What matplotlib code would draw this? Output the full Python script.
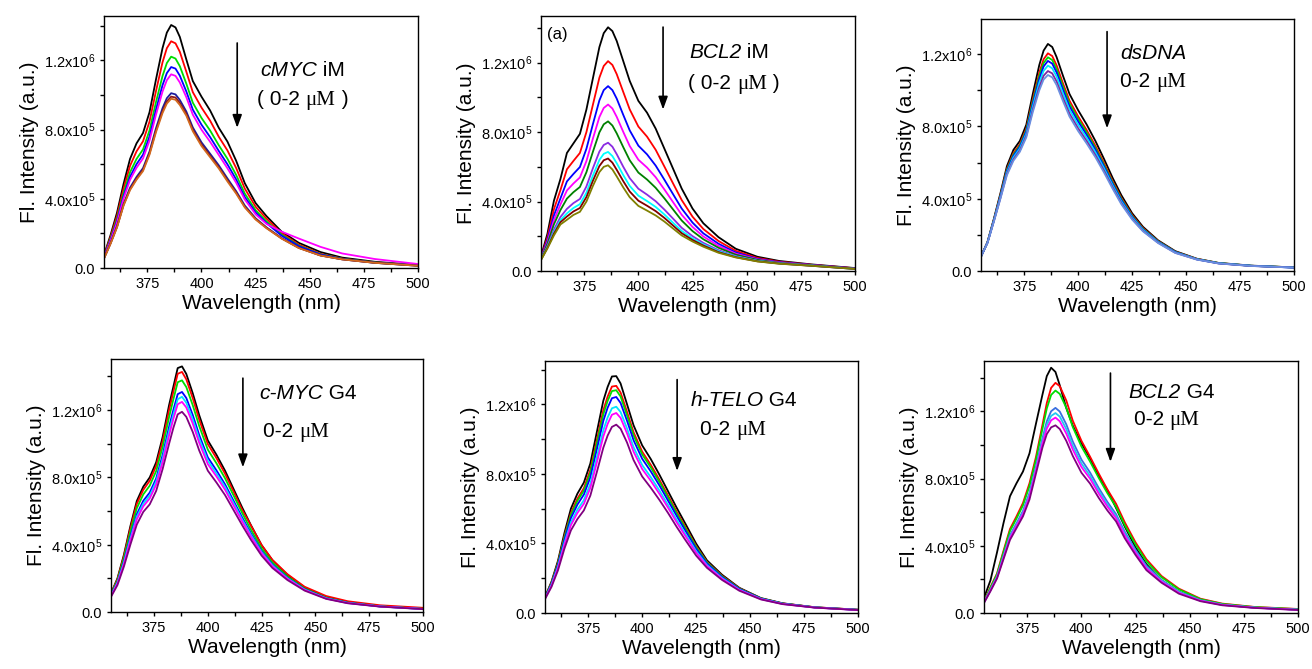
import matplotlib
matplotlib.use("Agg")
import numpy as np
import matplotlib.pyplot as plt
from matplotlib.offsetbox import TextArea, HPacker, AnnotationBbox
from matplotlib.ticker import MultipleLocator

# emission wavelength grid (nm), intensities below in units of 1e5 a.u.
wavelength = [355, 358, 361, 364, 367, 370, 373, 376, 379, 382, 384, 386, 388, 390, 393,
              396, 400, 404, 408, 412, 416, 420, 425, 430, 437, 445, 455, 465, 480, 500]

# --- cMYC iM titration ---
cmyc_im = [
    [0.75, 1.9, 3.2, 4.85, 6.3, 7.2, 7.8, 9.0, 10.9, 12.7, 13.6, 14.04, 13.9, 13.35, 12.05, 10.8, 9.9, 9.1, 8.1, 7.3, 6.2, 4.9, 3.75, 3.0, 2.1, 1.45, 0.92, 0.6, 0.36, 0.17],
    [0.71, 1.79, 3.01, 4.58, 5.9, 6.74, 7.32, 8.46, 10.23, 11.88, 12.7, 13.1, 12.98, 12.49, 11.34, 10.16, 9.27, 8.51, 7.58, 6.79, 5.78, 4.59, 3.54, 2.85, 2.01, 1.35, 0.82, 0.54, 0.32, 0.16],
    [0.66, 1.69, 2.83, 4.31, 5.53, 6.3, 6.85, 7.95, 9.59, 11.09, 11.84, 12.21, 12.1, 11.66, 10.65, 9.55, 8.67, 7.94, 7.09, 6.31, 5.38, 4.3, 3.34, 2.7, 1.93, 1.29, 0.79, 0.53, 0.32, 0.15],
    [0.64, 1.62, 2.72, 4.14, 5.27, 6.0, 6.55, 7.6, 9.16, 10.56, 11.26, 11.61, 11.52, 11.11, 10.2, 9.15, 8.28, 7.56, 6.76, 5.99, 5.12, 4.1, 3.21, 2.6, 1.87, 1.26, 0.78, 0.52, 0.31, 0.15],
    [0.62, 1.57, 2.63, 4.01, 5.09, 5.79, 6.33, 7.36, 8.86, 10.19, 10.85, 11.19, 11.1, 10.72, 9.87, 8.86, 7.99, 7.29, 6.53, 5.76, 4.93, 3.96, 3.1, 2.55, 2.1, 1.7, 1.22, 0.84, 0.52, 0.23],
    [0.57, 1.44, 2.41, 3.69, 4.64, 5.26, 5.77, 6.73, 8.08, 9.23, 9.81, 10.1, 10.03, 9.71, 9.04, 8.12, 7.26, 6.6, 5.93, 5.17, 4.44, 3.61, 2.87, 2.35, 1.73, 1.17, 0.73, 0.5, 0.3, 0.13],
    [0.56, 1.42, 2.38, 3.64, 4.55, 5.16, 5.67, 6.62, 7.94, 9.06, 9.62, 9.9, 9.85, 9.54, 8.9, 7.99, 7.14, 6.48, 5.82, 5.07, 4.36, 3.54, 2.83, 2.32, 1.71, 1.16, 0.72, 0.5, 0.3, 0.13],
    [0.55, 1.4, 2.35, 3.6, 4.5, 5.1, 5.6, 6.55, 7.85, 8.95, 9.5, 9.78, 9.72, 9.42, 8.8, 7.9, 7.05, 6.4, 5.75, 5.0, 4.3, 3.5, 2.8, 2.3, 1.7, 1.15, 0.72, 0.5, 0.3, 0.13],
]
cmyc_im_colors = ["black", "#ff0000", "#00dd00", "#0000ff", "#ff00ff", "#1c1c9c", "#8b1a1a", "#d2691e"]

# --- BCL2 iM titration ---
bcl2_im = [
    [0.82, 2.15, 4.05, 5.3, 6.8, 7.35, 7.9, 9.3, 11.1, 12.9, 13.7, 14.04, 13.82, 13.25, 12.1, 10.95, 9.8, 9.12, 8.2, 7.05, 5.9, 4.75, 3.6, 2.75, 1.95, 1.28, 0.82, 0.58, 0.38, 0.17],
    [0.77, 1.94, 3.56, 4.66, 5.86, 6.34, 6.8, 8.0, 9.58, 11.14, 11.81, 12.09, 11.87, 11.34, 10.32, 9.31, 8.32, 7.74, 6.98, 6.02, 5.05, 4.09, 3.13, 2.42, 1.73, 1.16, 0.75, 0.54, 0.36, 0.16],
    [0.74, 1.79, 3.2, 4.18, 5.16, 5.59, 5.99, 7.04, 8.46, 9.83, 10.42, 10.65, 10.42, 9.93, 9.0, 8.1, 7.22, 6.72, 6.07, 5.26, 4.43, 3.6, 2.79, 2.17, 1.57, 1.07, 0.7, 0.51, 0.35, 0.15],
    [0.71, 1.67, 2.93, 3.83, 4.64, 5.04, 5.39, 6.33, 7.63, 8.87, 9.39, 9.59, 9.36, 8.88, 8.02, 7.2, 6.41, 5.96, 5.4, 4.7, 3.97, 3.24, 2.54, 1.99, 1.45, 1.0, 0.67, 0.49, 0.34, 0.14],
    [0.69, 1.57, 2.69, 3.51, 4.17, 4.54, 4.84, 5.69, 6.87, 7.99, 8.45, 8.62, 8.38, 7.93, 7.14, 6.38, 5.67, 5.27, 4.79, 4.19, 3.55, 2.91, 2.3, 1.83, 1.34, 0.94, 0.64, 0.47, 0.33, 0.14],
    [0.66, 1.44, 2.38, 3.11, 3.58, 3.91, 4.15, 4.87, 5.92, 6.88, 7.26, 7.39, 7.16, 6.73, 6.01, 5.35, 4.74, 4.4, 4.02, 3.54, 3.02, 2.49, 2.01, 1.62, 1.2, 0.86, 0.59, 0.45, 0.31, 0.13],
    [0.65, 1.38, 2.24, 2.93, 3.32, 3.63, 3.85, 4.51, 5.5, 6.4, 6.75, 6.86, 6.62, 6.21, 5.53, 4.9, 4.34, 4.03, 3.69, 3.26, 2.78, 2.31, 1.88, 1.53, 1.14, 0.83, 0.58, 0.44, 0.31, 0.12],
    [0.64, 1.34, 2.15, 2.81, 3.14, 3.43, 3.63, 4.26, 5.2, 6.05, 6.38, 6.48, 6.24, 5.83, 5.18, 4.58, 4.05, 3.76, 3.45, 3.06, 2.62, 2.18, 1.79, 1.47, 1.09, 0.8, 0.56, 0.43, 0.3, 0.12],
    [0.63, 1.3, 2.05, 2.68, 2.95, 3.23, 3.41, 4.0, 4.9, 5.7, 6.0, 6.09, 5.85, 5.45, 4.82, 4.25, 3.75, 3.48, 3.2, 2.85, 2.45, 2.05, 1.7, 1.4, 1.05, 0.78, 0.55, 0.42, 0.3, 0.12],
]
bcl2_im_colors = ["black", "#ff0000", "#0000ff", "#ff00ff", "#008000", "#8a2be2", "#00ffff", "#800000", "#808000"]

# --- dsDNA titration ---
dsdna = [
    [0.8, 1.6, 2.9, 4.3, 5.8, 6.7, 7.2, 8.1, 9.8, 11.4, 12.2, 12.57, 12.4, 11.85, 10.8, 9.8, 8.9, 8.1, 7.2, 6.2, 5.15, 4.2, 3.2, 2.45, 1.7, 1.1, 0.68, 0.45, 0.3, 0.2],
    [0.8, 1.59, 2.86, 4.21, 5.65, 6.52, 7.02, 7.89, 9.5, 10.98, 11.72, 12.05, 11.9, 11.39, 10.38, 9.43, 8.56, 7.79, 6.93, 5.98, 4.97, 4.05, 3.1, 2.38, 1.66, 1.07, 0.67, 0.44, 0.29, 0.2],
    [0.8, 1.58, 2.84, 4.17, 5.59, 6.44, 6.94, 7.8, 9.37, 10.8, 11.51, 11.83, 11.68, 11.18, 10.2, 9.26, 8.41, 7.65, 6.81, 5.88, 4.89, 3.99, 3.05, 2.34, 1.64, 1.06, 0.66, 0.44, 0.29, 0.2],
    [0.8, 1.57, 2.82, 4.14, 5.53, 6.37, 6.87, 7.72, 9.25, 10.63, 11.32, 11.63, 11.48, 11.0, 10.03, 9.11, 8.27, 7.52, 6.71, 5.79, 4.82, 3.93, 3.01, 2.31, 1.62, 1.05, 0.65, 0.43, 0.29, 0.19],
    [0.8, 1.57, 2.8, 4.09, 5.45, 6.28, 6.78, 7.61, 9.1, 10.42, 11.08, 11.37, 11.22, 10.77, 9.82, 8.93, 8.1, 7.37, 6.57, 5.68, 4.73, 3.85, 2.96, 2.28, 1.6, 1.03, 0.65, 0.43, 0.29, 0.19],
    [0.8, 1.56, 2.77, 4.04, 5.37, 6.18, 6.68, 7.49, 8.93, 10.18, 10.81, 11.07, 10.94, 10.5, 9.58, 8.71, 7.9, 7.19, 6.42, 5.55, 4.63, 3.77, 2.9, 2.23, 1.57, 1.01, 0.64, 0.42, 0.28, 0.19],
    [0.8, 1.55, 2.75, 4.0, 5.3, 6.1, 6.6, 7.4, 8.8, 10.0, 10.6, 10.85, 10.72, 10.3, 9.4, 8.55, 7.75, 7.05, 6.3, 5.45, 4.55, 3.7, 2.85, 2.2, 1.55, 1.0, 0.63, 0.42, 0.28, 0.19],
]
dsdna_colors = ["black", "#ff0000", "#00dd00", "#0000ff", "#00e5ff", "#7b2aa0", "#6a8fe0"]

# --- c-MYC G4 titration ---
cmyc_g4 = [
    [1.1, 2.0, 3.4, 5.1, 6.6, 7.45, 8.0, 8.9, 10.4, 12.3, 13.4, 14.5, 14.6, 14.15, 13.0, 11.7, 10.2, 9.35, 8.4, 7.3, 6.2, 5.17, 3.97, 3.08, 2.2, 1.45, 0.88, 0.58, 0.35, 0.2],
    [1.08, 1.95, 3.31, 4.96, 6.43, 7.26, 7.8, 8.69, 10.16, 12.01, 13.1, 14.16, 14.27, 13.83, 12.71, 11.44, 9.98, 9.15, 8.22, 7.15, 6.07, 5.15, 3.98, 3.1, 2.25, 1.5, 0.95, 0.64, 0.4, 0.25],
    [1.04, 1.88, 3.19, 4.76, 6.17, 6.99, 7.51, 8.38, 9.82, 11.59, 12.65, 13.66, 13.77, 13.37, 12.29, 11.06, 9.65, 8.84, 7.95, 6.92, 5.88, 4.9, 3.78, 2.94, 2.11, 1.39, 0.85, 0.56, 0.34, 0.19],
    [0.99, 1.78, 3.01, 4.48, 5.81, 6.61, 7.1, 7.94, 9.33, 11.01, 12.02, 12.95, 13.08, 12.72, 11.71, 10.52, 9.19, 8.42, 7.59, 6.6, 5.61, 4.68, 3.62, 2.82, 2.03, 1.35, 0.82, 0.55, 0.33, 0.18],
    [0.97, 1.73, 2.93, 4.36, 5.66, 6.44, 6.92, 7.76, 9.12, 10.75, 11.75, 12.65, 12.79, 12.44, 11.45, 10.29, 8.99, 8.24, 7.43, 6.46, 5.49, 4.59, 3.55, 2.77, 2.0, 1.33, 0.81, 0.54, 0.33, 0.18],
    [0.94, 1.69, 2.85, 4.24, 5.51, 6.28, 6.75, 7.57, 8.92, 10.5, 11.49, 12.35, 12.49, 12.16, 11.2, 10.06, 8.79, 8.06, 7.27, 6.32, 5.38, 4.49, 3.49, 2.72, 1.97, 1.31, 0.8, 0.53, 0.33, 0.18],
    [0.9, 1.6, 2.7, 4.0, 5.2, 5.95, 6.4, 7.2, 8.5, 10.0, 10.95, 11.75, 11.9, 11.6, 10.7, 9.6, 8.4, 7.7, 6.95, 6.05, 5.15, 4.3, 3.35, 2.62, 1.9, 1.27, 0.78, 0.52, 0.32, 0.17],
]
cmyc_g4_colors = ["black", "#ff0000", "#00dd00", "#0000ff", "#00e5ff", "#ff00ff", "#800080"]

# --- h-TELO G4 titration ---
htelo_g4 = [
    [0.92, 1.8, 3.0, 4.6, 6.0, 6.86, 7.5, 8.6, 10.4, 12.2, 13.0, 13.6, 13.62, 13.2, 12.0, 10.8, 9.64, 8.85, 7.95, 7.0, 6.05, 5.14, 3.99, 3.03, 2.2, 1.45, 0.86, 0.56, 0.33, 0.19],
    [0.9, 1.74, 2.89, 4.42, 5.75, 6.57, 7.18, 8.23, 9.94, 11.66, 12.44, 13.02, 13.06, 12.68, 11.56, 10.4, 9.28, 8.52, 7.66, 6.75, 5.83, 4.95, 3.85, 2.94, 2.14, 1.42, 0.84, 0.55, 0.33, 0.19],
    [0.89, 1.71, 2.84, 4.34, 5.64, 6.44, 7.04, 8.06, 9.73, 11.42, 12.19, 12.76, 12.81, 12.45, 11.36, 10.22, 9.12, 8.37, 7.53, 6.64, 5.73, 4.87, 3.79, 2.91, 2.11, 1.4, 0.84, 0.55, 0.32, 0.18],
    [0.87, 1.67, 2.76, 4.21, 5.46, 6.23, 6.81, 7.8, 9.41, 11.04, 11.8, 12.35, 12.42, 12.08, 11.05, 9.94, 8.87, 8.14, 7.33, 6.46, 5.58, 4.74, 3.69, 2.85, 2.07, 1.38, 0.83, 0.54, 0.32, 0.18],
    [0.84, 1.61, 2.65, 4.03, 5.21, 5.94, 6.49, 7.43, 8.95, 10.5, 11.24, 11.77, 11.86, 11.56, 10.61, 9.54, 8.51, 7.81, 7.04, 6.21, 5.36, 4.55, 3.56, 2.76, 2.01, 1.34, 0.81, 0.53, 0.32, 0.18],
    [0.83, 1.57, 2.58, 3.92, 5.05, 5.75, 6.28, 7.19, 8.65, 10.15, 10.87, 11.4, 11.5, 11.22, 10.33, 9.28, 8.28, 7.6, 6.85, 6.05, 5.21, 4.43, 3.47, 2.7, 1.97, 1.32, 0.8, 0.52, 0.31, 0.17],
    [0.8, 1.5, 2.45, 3.7, 4.75, 5.4, 5.9, 6.75, 8.1, 9.5, 10.2, 10.7, 10.83, 10.6, 9.8, 8.8, 7.85, 7.2, 6.5, 5.75, 4.95, 4.2, 3.3, 2.6, 1.9, 1.28, 0.78, 0.51, 0.31, 0.17],
]
htelo_g4_colors = ["black", "#ff0000", "#00dd00", "#0000ff", "#00e5ff", "#ff00ff", "#800080"]

# --- BCL2 G4 titration ---
bcl2_g4 = [
    [0.9, 1.95, 3.6, 5.35, 6.95, 7.72, 8.42, 9.5, 11.27, 13.0, 14.1, 14.6, 14.35, 13.55, 12.2, 11.15, 10.1, 9.2, 8.15, 7.3, 6.25, 5.15, 3.9, 2.9, 1.95, 1.25, 0.75, 0.5, 0.32, 0.2],
    [0.7, 1.55, 2.35, 3.7, 5.0, 5.75, 6.55, 7.72, 9.29, 11.2, 12.5, 13.4, 13.7, 13.5, 12.65, 11.45, 10.25, 9.3, 8.3, 7.35, 6.5, 5.4, 4.2, 3.2, 2.2, 1.45, 0.85, 0.56, 0.36, 0.24],
    [0.68, 1.51, 2.3, 3.61, 4.88, 5.62, 6.41, 7.55, 9.11, 10.96, 12.17, 12.98, 13.24, 13.04, 12.22, 11.07, 9.91, 9.01, 8.04, 7.13, 6.31, 5.23, 4.07, 3.08, 2.13, 1.4, 0.82, 0.54, 0.35, 0.23],
    [0.64, 1.4, 2.17, 3.41, 4.62, 5.34, 6.08, 7.15, 8.71, 10.4, 11.41, 12.01, 12.21, 11.99, 11.23, 10.21, 9.13, 8.36, 7.44, 6.61, 5.88, 4.84, 3.76, 2.82, 1.96, 1.27, 0.76, 0.5, 0.32, 0.2],
    [0.63, 1.37, 2.14, 3.35, 4.54, 5.25, 5.98, 7.03, 8.59, 10.24, 11.19, 11.73, 11.9, 11.69, 10.95, 9.96, 8.9, 8.16, 7.27, 6.46, 5.75, 4.73, 3.67, 2.74, 1.92, 1.24, 0.74, 0.49, 0.32, 0.2],
    [0.62, 1.35, 2.1, 3.29, 4.47, 5.18, 5.89, 6.92, 8.48, 10.09, 10.98, 11.47, 11.63, 11.41, 10.68, 9.73, 8.69, 7.99, 7.11, 6.33, 5.64, 4.62, 3.59, 2.67, 1.87, 1.2, 0.73, 0.48, 0.31, 0.19],
    [0.6, 1.3, 2.05, 3.2, 4.35, 5.05, 5.75, 6.75, 8.3, 9.85, 10.65, 11.05, 11.17, 10.95, 10.25, 9.35, 8.35, 7.7, 6.85, 6.1, 5.45, 4.45, 3.45, 2.55, 1.8, 1.15, 0.7, 0.46, 0.3, 0.18],
]
bcl2_g4_colors = ["black", "#ff0000", "#00dd00", "#3a6fe0", "#22c8f0", "#ff00ff", "#800080"]

x_ticks = [375, 400, 425, 450, 475, 500]
y_ticks = [0, 4e5, 8e5, 1.2e6]
y_ticklabels = ["0.0", "4.0x10$^5$", "8.0x10$^5$", "1.2x10$^6$"]

plt.rcParams.update({
    "font.family": ["Liberation Sans", "DejaVu Sans"],
    "mathtext.default": "regular",
    "axes.linewidth": 1.0,
})

SANS = "Liberation Sans"
SERIF = "Liberation Serif"
FS_NOTE = 15


def place_segments(ax, x, y, segments):
    """Put a run of differently styled text pieces left-aligned at (x, y)."""
    boxes = []
    for text, props in segments:
        tp = dict(fontsize=FS_NOTE, color="black", family=SANS)
        tp.update(props)
        boxes.append(TextArea(text, textprops=tp))
    pack = HPacker(children=boxes, align="baseline", pad=0, sep=0)
    ab = AnnotationBbox(pack, (x, y), xycoords="data", box_alignment=(0, 0.5),
                        frameon=False, pad=0)
    ax.add_artist(ab)


IT = {"style": "italic"}
MU = {"family": SERIF}

panels = [
    dict(data=cmyc_im, colors=cmyc_im_colors, rect=[0.0793, 0.5994, 0.2393, 0.3767], ymax=1.456e6,
         arrow=(416.5, 1.30e6, 0.81e6),
         lines=[(427.0, 1.14e6, [("cMYC", IT), (" iM", {})]),
                (425.7, 0.97e6, [("( 0-2 ", {}), ("\u03bcM", MU), (" )", {})])]),
    dict(data=bcl2_im, colors=bcl2_im_colors, rect=[0.4123, 0.5949, 0.2393, 0.3812], ymax=1.469e6,
         arrow=(411.4, 1.405e6, 0.93e6),
         lines=[(423.4, 1.256e6, [("BCL2", IT), (" iM", {})]),
                (423.0, 1.077e6, [("( 0-2 ", {}), ("\u03bcM", MU), (" )", {})])]),
    dict(data=dsdna, colors=dsdna_colors, rect=[0.7477, 0.5949, 0.2386, 0.3767], ymax=1.395e6,
         arrow=(413.4, 1.325e6, 0.79e6),
         lines=[(419.4, 1.205e6, [("dsDNA", IT)]),
                (419.4, 1.048e6, [("0-2 ", {}), ("\u03bcM", MU)])]),
    dict(data=cmyc_g4, colors=cmyc_g4_colors, rect=[0.0846, 0.0852, 0.2378, 0.3782], ymax=1.504e6,
         arrow=(416.3, 1.39e6, 0.86e6),
         lines=[(423.8, 1.30e6, [("c-MYC", IT), (" G4", {})]),
                (425.8, 1.069e6, [("0-2 ", {}), ("\u03bcM", MU)])]),
    dict(data=htelo_g4, colors=htelo_g4_colors, rect=[0.4154, 0.0837, 0.2386, 0.3767], ymax=1.449e6,
         arrow=(416.2, 1.342e6, 0.817e6),
         lines=[(422.3, 1.219e6, [("h-TELO", IT), (" G4", {})]),
                (426.9, 1.05e6, [("0-2 ", {}), ("\u03bcM", MU)])]),
    dict(data=bcl2_g4, colors=bcl2_g4_colors, rect=[0.75, 0.0837, 0.2393, 0.3767], ymax=1.50e6,
         arrow=(413.4, 1.428e6, 0.90e6),
         lines=[(421.9, 1.315e6, [("BCL2", IT), (" G4", {})]),
                (424.2, 1.15e6, [("0-2 ", {}), ("\u03bcM", MU)])]),
]

fig = plt.figure(figsize=(13.12, 6.69), dpi=100)

for i, p in enumerate(panels):
    ax = fig.add_axes(p["rect"])
    for curve, color in zip(p["data"], p["colors"]):
        ax.plot(wavelength, np.array(curve) * 1e5, color=color, lw=1.3)
    ax.set_xlim(355, 500)
    ax.set_ylim(0, p["ymax"])
    ax.set_xticks(x_ticks)
    ax.xaxis.set_minor_locator(MultipleLocator(12.5))
    ax.set_yticks(y_ticks)
    ax.set_yticklabels(y_ticklabels)
    ax.yaxis.set_minor_locator(MultipleLocator(2e5))
    ax.tick_params(which="both", direction="out", length=3, width=1.0, labelsize=10.5,
                   top=False, right=False)
    ax.set_xlabel("Wavelength (nm)", fontsize=15, labelpad=2)
    ax.set_ylabel("Fl. Intensity (a.u.)", fontsize=15, labelpad=3)

    ax_x, y_top, y_bot = p["arrow"]
    ax.annotate("", xy=(ax_x, y_bot), xytext=(ax_x, y_top),
                arrowprops=dict(arrowstyle="-|>,head_length=0.55,head_width=0.2",
                                color="black", lw=1.2, mutation_scale=14,
                                shrinkA=0, shrinkB=0))
    for tx, ty, segs in p["lines"]:
        place_segments(ax, tx, ty, segs)

    if i == 1:
        ax.text(357.9, 1.36e6, "(a)", fontsize=12, ha="left", va="center")

fig.savefig("out.png", dpi=100)
